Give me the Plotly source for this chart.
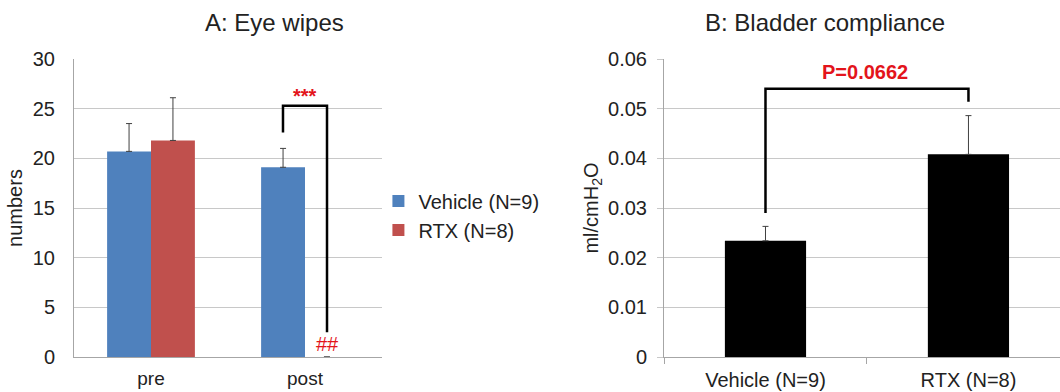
import plotly.graph_objects as go

# Panel A data
groups_a = ["pre", "post"]
vehicle_a = [20.7, 19.1]
vehicle_a_err = [2.8, 1.9]
rtx_a = [21.8, 0]
rtx_a_err = [4.3, None]
series_names = ["Vehicle (N=9)", "RTX (N=8)"]

# Panel B data
groups_b = ["Vehicle (N=9)", "RTX (N=8)"]
compliance_b = [0.0234, 0.0408]
compliance_b_err = [0.0029, 0.0078]

BLUE = "#4F81BD"
RED = "#C0504D"
SIG = "#E3141B"
GRID = "#C8C8C8"
AXIS = "#A6A6A6"
ERR = "#404040"
TXT = "#222222"
FONT = "Liberation Sans, Arial, sans-serif"
FS = 20

fig = go.Figure()

fig.add_trace(go.Bar(
    x=groups_a, y=vehicle_a, name=series_names[0], marker_color=BLUE,
    marker_line_width=0,
    error_y=dict(type="data", array=vehicle_a_err, arrayminus=[0, 0], symmetric=False,
                 color=ERR, thickness=1, width=3),
    xaxis="x", yaxis="y"))
fig.add_trace(go.Bar(
    x=groups_a, y=rtx_a, name=series_names[1], marker_color=RED,
    marker_line_width=0,
    error_y=dict(type="data", array=rtx_a_err, arrayminus=[0, None], symmetric=False,
                 color=ERR, thickness=1, width=3),
    xaxis="x", yaxis="y"))

fig.add_trace(go.Bar(
    x=groups_b, y=compliance_b, marker_color="black", marker_line_width=0,
    width=0.4, showlegend=False,
    error_y=dict(type="data", array=compliance_b_err, arrayminus=[0, 0], symmetric=False,
                 color=ERR, thickness=1, width=3),
    xaxis="x2", yaxis="y2"))

ydom = [1 - 357 / 392, 1 - 59 / 392]

fig.update_layout(
    template="none",
    width=1060, height=392,
    margin=dict(l=0, r=0, t=0, b=0, pad=0),
    paper_bgcolor="white", plot_bgcolor="white",
    font=dict(family=FONT, size=FS, color=TXT),
    barmode="group", bargap=0.43, bargroupgap=0,
    showlegend=True,
    legend=dict(x=0.357, y=0.45, xanchor="left", yanchor="middle",
                font=dict(size=FS), itemwidth=30, tracegroupgap=0,
                bgcolor="rgba(0,0,0,0)"),
    xaxis=dict(domain=[74 / 1060, 382 / 1060], range=[-0.5, 1.5], type="category",
               showline=True, linecolor=AXIS, linewidth=1, ticks="",
               showgrid=False, tickfont=dict(size=19), ticklabelstandoff=4,
               automargin=False, anchor="y"),
    yaxis=dict(domain=ydom, range=[0, 30], tickvals=[0, 5, 10, 15, 20, 25, 30],
               showline=True, linecolor=AXIS, linewidth=1, ticks="",
               showgrid=True, gridcolor=GRID, gridwidth=1,
               tickfont=dict(size=FS), ticklabelstandoff=14,
               title=dict(text="numbers", font=dict(size=FS), standoff=4),
               zeroline=False, automargin=False, anchor="x"),
    xaxis2=dict(domain=[664 / 1060, 1.0], range=[-0.5, 1.451], type="category",
                showline=True, linecolor=AXIS, linewidth=1,
                ticks="outside", tickson="boundaries", ticklen=6, tickcolor=AXIS,
                showgrid=False, tickfont=dict(size=FS), ticklabelstandoff=5,
                automargin=False, anchor="y2"),
    yaxis2=dict(domain=ydom, range=[0, 0.06],
                tickvals=[0, 0.01, 0.02, 0.03, 0.04, 0.05, 0.06],
                ticktext=["0", "0.01", "0.02", "0.03", "0.04", "0.05", "0.06"],
                showline=True, linecolor=AXIS, linewidth=1,
                ticks="outside", ticklen=6, tickcolor=GRID,
                showgrid=True, gridcolor=GRID, gridwidth=1,
                tickfont=dict(size=FS), ticklabelstandoff=6,
                title=dict(text="ml/cmH<sub>2</sub>O", font=dict(size=FS), standoff=4),
                zeroline=False, automargin=False, anchor="x2"),
)

# Titles
fig.add_annotation(text="A: Eye wipes", x=274 / 1060, y=1 - 23 / 392, xref="paper", yref="paper",
                   showarrow=False, font=dict(size=24, color=TXT), xanchor="center", yanchor="middle")
fig.add_annotation(text="B: Bladder compliance", x=825 / 1060, y=1 - 23 / 392, xref="paper", yref="paper",
                   showarrow=False, font=dict(size=24, color=TXT), xanchor="center", yanchor="middle")

# Panel A bracket (Vehicle post -> RTX post)
off = 0.1429
xa_l, xa_r = 1 - off, 1 + off
fig.add_shape(type="path", xref="x", yref="y",
              path=f"M {xa_l},22.6 L {xa_l},25.3 L {xa_r},25.3 L {xa_r},2.5",
              line=dict(color="black", width=2.5))
fig.add_annotation(text="<b>***</b>", x=1, y=26.3, xref="x", yref="y", showarrow=False,
                   font=dict(size=20, color=SIG), yanchor="middle")
fig.add_annotation(text="##", x=xa_r, y=1.3, xref="x", yref="y", showarrow=False,
                   font=dict(size=20, color=SIG), yanchor="middle")

# Panel B bracket
fig.add_shape(type="path", xref="x2", yref="y2",
              path="M 0,0.0290 L 0,0.0540 L 1,0.0540 L 1,0.0514",
              line=dict(color="black", width=2.5))
fig.add_annotation(text="<b>P=0.0662</b>", x=0.49, y=0.0574, xref="x2", yref="y2", showarrow=False,
                   font=dict(size=20, color=SIG), yanchor="middle")

fig.write_html("out.html", config={"displayModeBar": False},
               post_script="document.body.style.margin='0';document.body.style.overflow='hidden';")
